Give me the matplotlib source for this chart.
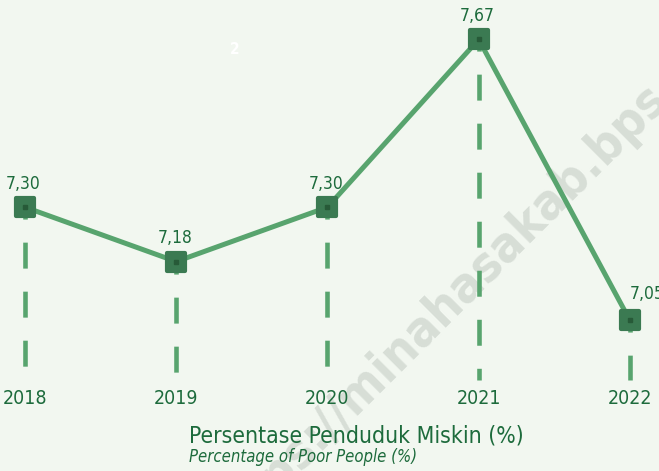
import matplotlib

matplotlib.use("Agg")
import matplotlib.pyplot as plt  # noqa: E402
from matplotlib.markers import MarkerStyle  # noqa: E402

# data
years = [2018, 2019, 2020, 2021, 2022]
values = [7.30, 7.18, 7.30, 7.67, 7.05]
value_labels = ["7,30", "7,18", "7,30", "7,67", "7,05"]
year_labels = ["2018", "2019", "2020", "2021", "2022"]
title_id = "Persentase Penduduk Miskin (%)"
title_en = "Percentage of Poor People (%)"
watermark = "https://minahasakab.bps.go.id"

BG = "#f2f7f0"
LINE = "#58a46e"
MARK = "#3b7a52"
DOT = "#275a38"
TEXT = "#1d6b3c"

plt.rcParams["font.family"] = ["DejaVu Sans"]
plt.rcParams["font.stretch"] = "condensed"
plt.rcParams["lines.scale_dashes"] = False

W, H = 659, 471
fig = plt.figure(figsize=(W / 100, H / 100), dpi=100)
fig.patch.set_facecolor(BG)
ax = fig.add_axes([0, 0, 1, 1])
ax.set_facecolor(BG)
ax.set_xlim(2017.835, 2022.192)
ax.set_ylim(6.718, 7.757)
ax.axis("off")

# watermark
ax.text(488 / W, 1 - 262 / H, watermark, transform=ax.transAxes, rotation=45,
        fontsize=36, fontweight="bold", color="#9aa49c", alpha=0.3,
        ha="center", va="center", zorder=1)

# dashed drop lines from each point down to the year labels
bottom = 6.918
for x, v in zip(years, values):
    ax.plot([x, x], [v, bottom], color=LINE, linewidth=3.3,
            linestyle=(10, (18.7, 16.6)), zorder=2)

ax.plot(years, values, color=LINE, linewidth=3.6, zorder=3,
        solid_joinstyle="round")
ax.plot(years, values, linestyle="none",
        marker=MarkerStyle("s", joinstyle="round"), markersize=13,
        markerfacecolor=MARK, markeredgecolor=MARK, markeredgewidth=3,
        zorder=4)
ax.plot(years, values, linestyle="none", marker="s", markersize=3,
        markerfacecolor=DOT, markeredgecolor=DOT, zorder=5)

for i, (x, v, lab) in enumerate(zip(years, values, value_labels)):
    if i == len(years) - 1:
        ax.annotate(lab, (x, v), xytext=(0, 19), textcoords="offset points",
                    ha="left", va="center", fontsize=12.5, color=TEXT, zorder=6)
    else:
        ax.annotate(lab, (x, v), xytext=(-1, 17), textcoords="offset points",
                    ha="center", va="center", fontsize=12.5, color=TEXT, zorder=6)

for x, lab in zip(years, year_labels):
    ax.text(x, 1 - 398 / H, lab, transform=ax.get_xaxis_transform(),
            ha="center", va="center", fontsize=14, color=TEXT, zorder=6)

fig.text(189 / W, 1 - 436 / H, title_id, ha="left", va="center",
         fontsize=16.5, color=TEXT)
fig.text(189 / W, 1 - 457 / H, title_en, ha="left", va="center",
         fontsize=12, style="italic", color=TEXT)

# small white digit near top
fig.text(235 / W, 1 - 50 / H, "2", ha="center", va="center",
         fontsize=11, color="white", fontweight="bold")

fig.savefig("out.png", dpi=100, facecolor=fig.get_facecolor())
